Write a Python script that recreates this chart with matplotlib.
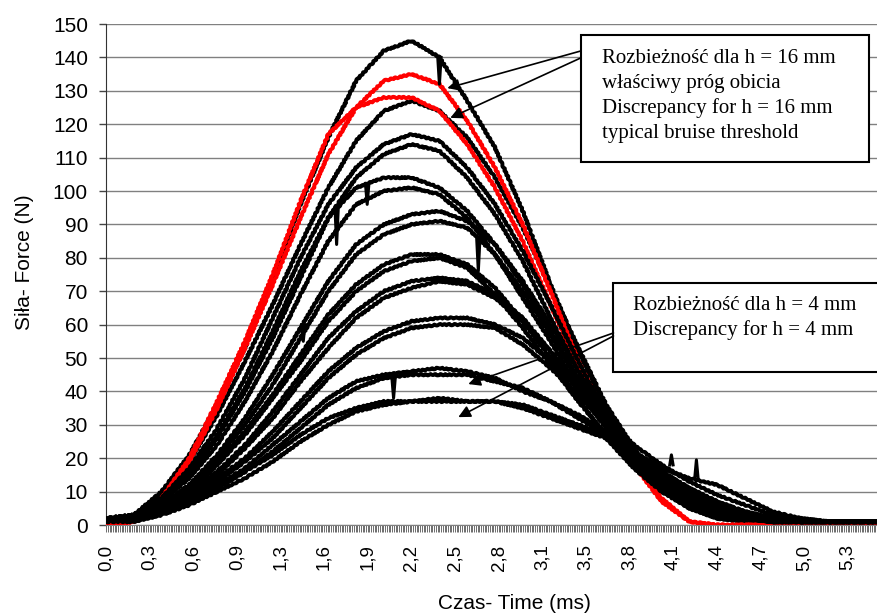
import matplotlib
matplotlib.use('Agg')
import matplotlib.pyplot as plt
from matplotlib.ticker import MultipleLocator
from matplotlib.patches import Rectangle

plt.rcParams['font.family'] = ['Liberation Sans', 'DejaVu Sans']

# czas (ms)
t_ms = [0.0, 0.2, 0.4, 0.6, 0.8, 1.0, 1.2, 1.4, 1.6, 1.8, 2.0, 2.2, 2.4, 2.6,
        2.8, 3.0, 3.2, 3.4, 3.6, 3.8, 4.0, 4.2, 4.4, 4.6, 4.8, 5.0, 5.2, 5.4, 5.6]

# siła (N) - pomiary czarne
k145 = [1, 3, 10, 21, 36, 53, 74, 96, 116, 133, 142, 145, 140, 127, 113, 94, 72, 52, 35, 21, 11, 5, 2, 1, 1, 1, 1, 1, 1]
k127 = [2, 3, 9, 19, 33, 49, 66, 84, 101, 115, 124, 127, 124, 116, 104, 89, 71, 53, 36, 23, 12, 5, 2, 1, 1, 1, 1, 1, 1]
k117 = [2, 3, 8, 17, 29, 44, 62, 80, 96, 107, 114, 117, 115, 107, 96, 82, 66, 49, 33, 21, 12, 6, 3, 2, 1, 1, 1, 1, 1]
k114 = [1, 3, 8, 16, 27, 41, 58, 76, 92, 104, 111, 114, 112, 104, 93, 79, 62, 46, 31, 20, 11, 6, 3, 2, 1, 1, 1, 1, 1]
k104 = [2, 3, 8, 15, 26, 40, 56, 74, 92, 101, 104, 104, 101, 94, 84, 72, 58, 44, 31, 21, 13, 7, 4, 2, 1, 1, 1, 1, 1]
k101 = [1, 2, 7, 14, 24, 37, 52, 69, 85, 96, 100, 101, 99, 92, 81, 68, 55, 41, 29, 19, 12, 6, 3, 2, 1, 1, 1, 1, 1]
k94 = [1, 2, 6, 12, 21, 32, 45, 59, 73, 84, 90, 93, 94, 91, 84, 73, 60, 46, 33, 22, 14, 8, 4, 2, 1, 1, 1, 1, 1]
k91 = [1, 2, 6, 12, 20, 30, 42, 56, 70, 81, 87, 90, 91, 89, 81, 70, 57, 43, 31, 21, 13, 8, 5, 3, 2, 1, 1, 1, 1]
k81 = [1, 2, 5, 11, 19, 28, 39, 51, 63, 72, 78, 81, 81, 78, 71, 61, 50, 38, 26, 17, 10, 5, 3, 2, 1, 1, 1, 1, 1]
k80 = [1, 2, 5, 10, 18, 27, 38, 49, 61, 70, 76, 79, 80, 77, 69, 59, 48, 37, 27, 18, 11, 6, 3, 2, 1, 1, 1, 1, 1]
k74 = [1, 2, 5, 10, 16, 24, 34, 45, 56, 64, 70, 73, 74, 73, 69, 62, 52, 40, 29, 19, 12, 7, 4, 2, 1, 1, 1, 1, 1]
k73 = [1, 2, 5, 9, 15, 23, 32, 43, 53, 62, 68, 71, 73, 72, 68, 61, 52, 42, 31, 21, 14, 9, 5, 3, 2, 1, 1, 1, 1]
k62 = [1, 2, 4, 8, 14, 20, 28, 37, 46, 53, 58, 61, 62, 62, 60, 56, 49, 41, 32, 24, 18, 13, 9, 6, 3, 2, 1, 1, 1]
k60 = [1, 2, 4, 8, 13, 19, 26, 35, 44, 51, 56, 59, 60, 60, 59, 54, 47, 39, 30, 22, 16, 11, 7, 4, 2, 1, 1, 1, 1]
k47 = [1, 2, 4, 7, 12, 17, 24, 31, 38, 43, 45, 46, 47, 46, 44, 40, 37, 33, 28, 22, 17, 14, 12, 8, 4, 2, 1, 1, 1]
k45 = [1, 2, 4, 7, 11, 16, 22, 29, 36, 41, 44, 45, 45, 45, 43, 41, 37, 32, 27, 21, 15, 10, 6, 4, 2, 1, 1, 1, 1]
k38 = [1, 2, 4, 7, 11, 16, 21, 27, 32, 35, 37, 37, 38, 37, 37, 36, 33, 30, 27, 21, 16, 11, 7, 4, 2, 1, 1, 1, 1]
k37 = [1, 1, 3, 6, 10, 14, 19, 25, 30, 34, 36, 37, 37, 37, 37, 35, 32, 29, 26, 20, 14, 9, 5, 3, 2, 1, 1, 1, 1]

# pomiary czerwone (próg obicia)
r135 = [0, 1, 7, 19, 35, 53, 72, 92, 111, 125, 133, 135, 132, 121, 107, 90, 70, 49, 32, 19, 8, 1, 0, 0, 0, 0, 0, 0, 0]
r128 = [0, 1, 8, 20, 37, 55, 75, 97, 117, 125, 128, 128, 124, 114, 101, 85, 66, 47, 31, 18, 7, 1, 0, 0, 0, 0, 0, 0, 0]

black_series = [k145, k127, k117, k114, k104, k101, k94, k91, k81, k80,
                k74, k73, k62, k60, k47, k45, k38, k37]
red_series = [r135, r128]

# pojedyncze zakłócenia (szpilki)
spike_t = [1.42, 1.66, 1.88, 2.07, 2.40, 2.68, 4.07, 4.25]
spike_base = [60, 95, 102, 44, 140, 86, 18, 14]
spike_tip = [55, 84, 96, 38, 132, 76, 21, 19.5]

x_labels = ['0,0', '0,3', '0,6', '0,9', '1,3', '1,6', '1,9', '2,2', '2,5',
            '2,8', '3,1', '3,5', '3,8', '4,1', '4,4', '4,7', '5,0', '5,3']
label_step = 0.314

fig = plt.figure(figsize=(8.77, 6.16), dpi=100)
ax = fig.add_axes([0.1209, 0.1477, 0.8791, 0.8133])


def draw(values, color):
    line, = ax.plot(t_ms, values, color=color, lw=2.8, solid_joinstyle='round',
                    solid_capstyle='round', zorder=3)
    line.set_sketch_params(scale=0.7, length=5, randomness=2)


for s in black_series[:2]:
    draw(s, 'black')
for s in red_series:
    draw(s, '#ff0000')
for s in black_series[2:]:
    draw(s, 'black')

for t, b, p in zip(spike_t, spike_base, spike_tip):
    ax.plot([t - 0.012, t, t + 0.012], [b, p, b], color='black', lw=2.2, zorder=3)

ax.set_xlim(0, 5.55)
ax.set_ylim(0, 150)
ax.set_yticks(range(0, 151, 10))
ax.set_xticks([i * label_step for i in range(len(x_labels))])
ax.set_xticklabels(x_labels, rotation=90, fontsize=13.5)
ax.xaxis.set_minor_locator(MultipleLocator(label_step / 25))
ax.tick_params(axis='y', labelsize=15, length=5, width=1, color='#444444', pad=8)
ax.tick_params(axis='x', which='both', length=5, width=0.6, color='#555555', pad=9)

ax.yaxis.grid(True, color='#808080', lw=1)
ax.set_axisbelow(True)
for side in ['top', 'right']:
    ax.spines[side].set_visible(False)
ax.spines['left'].set_color('#333333')
ax.spines['bottom'].set_color('#808080')

ax.set_ylabel('Siła- Force (N)', fontsize=15)
ax.yaxis.set_label_coords(-0.093, 0.525)
ax.set_xlabel('Czas- Time (ms)', fontsize=15)
ax.xaxis.set_label_coords(0.53, -0.138)

# opisy rozbieżności
serif = ['Liberation Serif', 'DejaVu Serif']
ax.add_patch(Rectangle((0.616, 0.7246), 0.3736, 0.2534, transform=ax.transAxes,
                       facecolor='white', edgecolor='black', lw=1.5, zorder=5))
box1_lines = ['Rozbieżność dla h = 16 mm', 'właściwy próg obicia',
              'Discrepancy for h = 16 mm', 'typical bruise threshold']
for i, line in enumerate(box1_lines):
    ax.text(0.6433, 0.932 - i * 0.05, line, transform=ax.transAxes, family=serif,
            fontsize=15, va='center', ha='left', zorder=6)

ax.add_patch(Rectangle((0.6576, 0.305), 0.36, 0.178, transform=ax.transAxes,
                       facecolor='white', edgecolor='black', lw=1.5, zorder=5))
box2_lines = ['Rozbieżność dla h = 4 mm', 'Discrepancy for h = 4 mm']
for i, line in enumerate(box2_lines):
    ax.text(0.6835, 0.439 - i * 0.05, line, transform=ax.transAxes, family=serif,
            fontsize=15, va='center', ha='left', zorder=6)

arrow = dict(arrowstyle='-|>', color='black', lw=1.2, mutation_scale=18,
             shrinkA=0, shrinkB=0)
ax.annotate('', xy=(2.457, 130.8), xytext=(3.415, 141.9), arrowprops=arrow, zorder=6)
ax.annotate('', xy=(2.478, 121.9), xytext=(3.415, 139.8), arrowprops=arrow, zorder=6)
ax.annotate('', xy=(2.608, 42.2), xytext=(3.653, 57.5), arrowprops=arrow, zorder=6)
ax.annotate('', xy=(2.536, 32.3), xytext=(3.653, 56.6), arrowprops=arrow, zorder=6)

fig.savefig('out.png', dpi=100)
